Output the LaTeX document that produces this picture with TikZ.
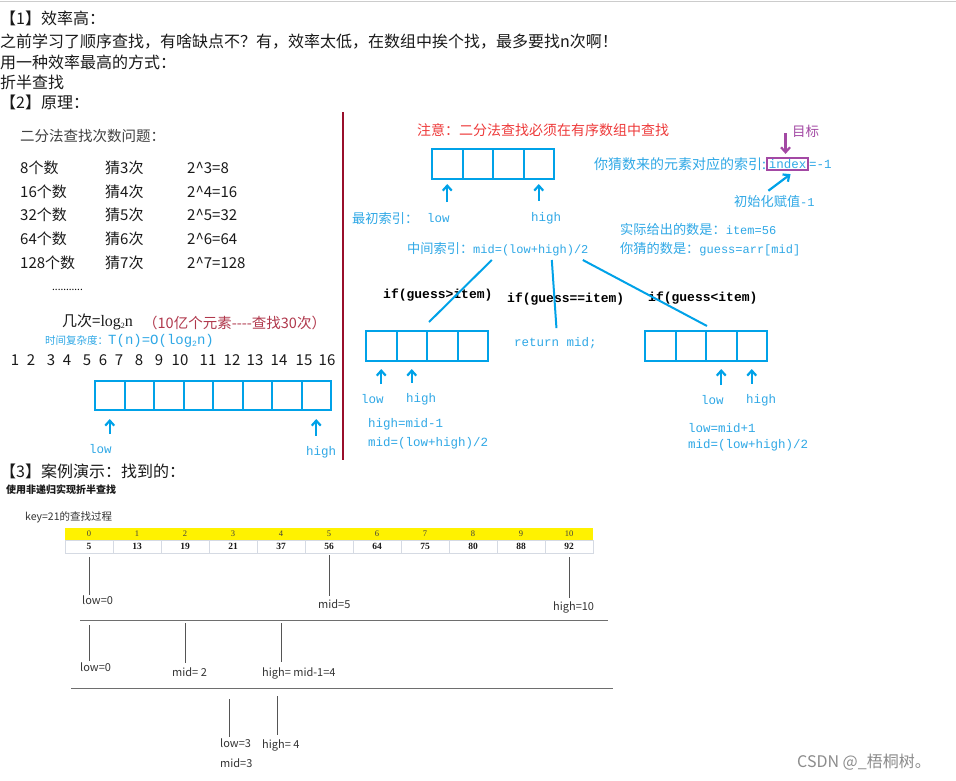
\documentclass[tikz,border=0pt]{standalone}
\usepackage{fontspec}
\setmainfont{Noto Sans CJK SC}
\newfontfamily\codefont{Liberation Mono}
\newfontfamily\numfont{Liberation Serif}
\usetikzlibrary{arrows.meta,calc,positioning}
\definecolor{paintblue}{HTML}{00A2E8}
\definecolor{codeblue}{HTML}{2FA8E6}
\definecolor{notered}{HTML}{EE3B3B}
\definecolor{paintpurple}{HTML}{A349A4}
\definecolor{rulered}{HTML}{990F2B}
\definecolor{maroon}{HTML}{B0384C}
\definecolor{ink}{HTML}{1A1A1A}
\definecolor{pinline}{HTML}{555555}
\definecolor{cellline}{HTML}{D5DAE3}
\newcommand{\subtwo}{\raisebox{-1.5pt}{\fontsize{8}{8}\selectfont 2}}
\newcommand{\code}[1]{{\codefont\fontsize{12}{14}\selectfont #1}}

\begin{document}
\begin{tikzpicture}[
  x=1pt,y=-1pt,
  txt/.style={anchor=west,inner sep=0pt,text=ink,font=\fontsize{16}{18}\selectfont},
  rowtxt/.style={anchor=west,inner sep=0pt,text=ink,font=\fontsize{15}{17}\selectfont},
  num/.style={inner sep=0pt,text=ink,font=\fontsize{15}{17}\selectfont},
  blue/.style={anchor=west,inner sep=0pt,text=codeblue,font=\fontsize{13.2}{15}\selectfont},
  bluecode/.style={blue,font=\codefont\fontsize{12.5}{14}\selectfont},
  cond/.style={anchor=west,inner sep=0pt,text=black,font=\codefont\bfseries\fontsize{13}{15}\selectfont},
  blkcell/.style={draw=paintblue,line width=2pt,minimum width=#1,minimum height=30pt,inner sep=0pt},
  uparrow/.style={-{Straight Barb[length=5pt,width=9pt]},draw=paintblue,line width=2.2pt},
  parrow/.style={uparrow,draw=paintpurple},
  branch/.style={draw=paintblue,line width=2pt},
  idxcell/.style={fill=yellow,minimum width=48pt,minimum height=12pt,inner sep=0pt,
    font=\numfont\fontsize{8.5}{9}\selectfont,text=black!75},
  valcell/.style={draw=cellline,minimum width=48pt,minimum height=13pt,inner sep=0pt,
    font=\numfont\bfseries\fontsize{9.5}{10}\selectfont,text=ink},
  glab/.style={anchor=west,inner sep=0pt,text=black!80,font=\fontsize{11}{12}\selectfont},
  pin/.style={draw=pinline,line width=.8pt},
  sep/.style={draw=pinline!85,line width=.9pt}
]
\useasboundingbox[fill=white] (0,0) rectangle (956,780);
\draw[black!20,line width=.6pt] (0,1.5) -- (956,1.5);

% section 1 and 2 headings
\node[txt] (h1) at (0,18) {【1】效率高：};
\node[txt] (p1) at (0,42) {之前学习了顺序查找，有啥缺点不？有，效率太低，在数组中挨个找，最多要找n次啊！};
\node[txt] (p2) at (0,62) {用一种效率最高的方式：};
\node[txt] (p3) at (0,82) {折半查找};
\node[txt] (h2) at (0,102) {【2】原理：};

\draw[rulered,line width=2pt] (343,112) -- (343,460);

% left panel
\node[anchor=west,inner sep=0pt,text=black!75,font=\fontsize{14.5}{16}\selectfont] (qtitle) at (20,136) {二分法查找次数问题：};
\foreach \rowN/\rowK/\rowP/\rowY in {8/3/8/168,16/4/16/192,32/5/32/215,64/6/64/239,128/7/128/263}{
  \node[rowtxt] (cnt\rowK) at (20,\rowY) {\rowN 个数};
  \node[rowtxt] (gs\rowK) at (105,\rowY) {猜\rowK 次};
  \node[rowtxt] (pw\rowK) at (187,\rowY) {2\textasciicircum\rowK=\rowP};
}
\node[anchor=west,inner sep=0pt,font=\fontsize{10}{10}\selectfont] (dots) at (52,290) {...........};
\node[rowtxt] (logn) at (62,322) {几次={\numfont\fontsize{16}{17}\selectfont log\subtwo n}};
\node[anchor=west,inner sep=0pt,text=maroon,font=\fontsize{14.5}{16}\selectfont] (billion) at (143,323) {（10亿个元素-{}-{}-{}-查找30次）};
\node[blue,font=\fontsize{10.5}{14}\selectfont] (tn) at (45,341) {时间复杂度：{\codefont\fontsize{14}{15}\selectfont T(n)=O(log\subtwo n)}};
\foreach \v/\x in {1/15,2/31,3/51,4/67,5/87,6/103,7/119,8/139,9/159,10/180,11/208,12/232,13/255,14/279,15/304,16/327}
  \node[num] (n\v) at (\x,360) {\v};
\foreach \i in {1,...,8}
  \node[blkcell=29.5pt,minimum height=29pt] (a\i) at ({95+29.5*\i-14.75},395.5) {};
\node[bluecode] (lowA) at (89,449) {low};
\node[bluecode] (highA) at (306,452) {high};
\draw[uparrow] ($(a1.south |- lowA.north)+(0,-10)$) -- ($(a1.south)+(0,8)$);
\draw[uparrow] ($(a8.south |- highA.north)+(0,-10)$) -- ($(a8.south)+(0,8)$);

% right panel
\node[anchor=west,inner sep=0pt,text=notered,font=\fontsize{14}{16}\selectfont] (note) at (417,130) {注意：二分法查找必须在有序数组中查找};
\foreach \i in {1,...,4}
  \node[blkcell=30.5pt] (m\i) at ({432+30.5*\i-15.25},164) {};
\node[blue] (first) at (352,218) {最初索引：};
\node[bluecode] (lowB) at (427,218) {low};
\node[bluecode] (highB) at (531,218) {high};
\draw[uparrow] ($(m1.south |- lowB.north)+(0,-11)$) -- ($(m1.south)+(0,4)$);
\draw[uparrow] ($(m4.south |- highB.north)+(0,-11)$) -- ($(m4.south)+(0,4)$);
\node[blue] (midf) at (407,249) {中间索引：\code{mid=(low+high)/2}};

\node[blue,font=\fontsize{14}{15}\selectfont] (gtxt) at (594,164) {你猜数来的元素对应的索引:};
\node[draw=paintpurple,line width=2pt,inner sep=1.5pt,text=codeblue,
  font=\codefont\fontsize{12.5}{14}\selectfont,right=0pt of gtxt] (idx) {index};
\node[bluecode,right=0pt of idx] (minus) {=-1};
\node[anchor=west,inner sep=0pt,text=paintpurple,font=\fontsize{13.5}{15}\selectfont] (tgt) at (792,131) {目标};
\node[blue] (init) at (734,201) {初始化赋值\code{-1}};
\draw[parrow] ($(idx.north |- tgt.west)+(-2,2)$) -- ($(idx.north)+(-2,-3)$);
\draw[uparrow] ($(init.north)+(-6,-4)$) -- ($(idx.south)+(3,3)$);
\node[blue] (item) at (620,229) {实际给出的数是：\code{item=56}};
\node[blue] (guess) at (620,249) {你猜的数是：\code{guess=arr[mid]}};

\node[cond] (ifgt) at (383,295) {if(guess>item)};
\node[cond] (ifeq) at (507,299) {if(guess==item)};
\node[cond] (iflt) at (648,298) {if(guess<item)};
\foreach \i in {1,...,4}{
  \node[blkcell=30.5pt] (l\i) at ({366+30.5*\i-15.25},346) {};
  \node[blkcell=30.5pt] (r\i) at ({645+30.5*\i-15.25},346) {};
}
\node[bluecode] (ret) at (514,343) {return mid;};
\draw[branch] ($(midf.south)+(-6,4)$) -- ($(l2.north east)+(1,-8)$);
\draw[branch] ($(midf.south)+(54,4)$) -- ($(ret.north)+(1,-9)$);
\draw[branch] ($(midf.south)+(85,4)$) -- ($(r3.north west)+(2,-4)$);

\node[bluecode] (lowC) at (361,399) {low};
\node[bluecode] (highC) at (406,399) {high};
\draw[uparrow] ($(l1.south |- lowC.north)+(0,-10)$) -- ($(l1.south)+(0,7)$);
\draw[uparrow] ($(l2.south |- highC.north)+(0,-10)$) -- ($(l2.south)+(0,7)$);
\node[bluecode] (hset) at (368,424) {high=mid-1};
\node[bluecode] (mset) at (368,443) {mid=(low+high)/2};

\node[bluecode] (lowD) at (701,400) {low};
\node[bluecode] (highD) at (746,400) {high};
\draw[uparrow] ($(r3.south |- lowD.north)+(0,-10)$) -- ($(r3.south)+(0,7)$);
\draw[uparrow] ($(r4.south |- highD.north)+(0,-10)$) -- ($(r4.south)+(0,7)$);
\node[bluecode] (lset) at (688,428) {low=mid+1};
\node[bluecode] (mset2) at (688,445) {mid=(low+high)/2};

% section 3: worked example
\node[txt] (h3) at (0,471) {【3】案例演示：找到的：};
\node[anchor=west,inner sep=0pt,text=ink,font=\bfseries\fontsize{10}{12}\selectfont] (sub) at (6,490) {使用非递归实现折半查找};
\node[glab,font=\fontsize{10.5}{12}\selectfont] (key) at (25,517) {key=21的查找过程};
\foreach \v [count=\i from 0] in {5,13,19,21,37,56,64,75,80,88,92}{
  \node[idxcell] (i\i) at ({89+48*\i},534) {\i};
  \node[valcell] (v\i) at ({89+48*\i},546.5) {\v};
}
\node[glab] (low1) at (82,600) {low=0};
\node[glab] (mid1) at (318,604) {mid=5};
\node[glab] (high1) at (553,607) {high=10};
\draw[pin] ($(v0.south)+(0,4)$) -- (v0.south |- low1.north);
\draw[pin] ($(v5.south)+(0,2)$) -- ($(v5.south |- mid1.north)+(0,-3)$);
\draw[pin] ($(v10.south)+(0,4)$) -- ($(v10.south |- high1.north)+(0,-3)$);
\coordinate (sepA) at (80,620);
\coordinate (sepAend) at (608,620);
\draw[sep] (sepA) -- (sepAend);

\node[glab] (low2) at (80,667) {low=0};
\node[glab] (mid2) at (172,672) {mid= 2};
\node[glab] (high2) at (262,673) {high= mid-1=4};
\draw[pin] ($(v0.south |- sepA)+(0,5)$) -- ($(v0.south |- low2.north)+(0,-1)$);
\draw[pin] ($(v2.south |- sepA)+(0,3)$) -- ($(v2.south |- mid2.north)+(0,-4)$);
\draw[pin] ($(v4.south |- sepA)+(0,3)$) -- ($(v4.south |- high2.north)+(0,-5)$);
\coordinate (sepB) at (71,688);
\coordinate (sepBend) at (613,688);
\draw[sep] (sepB) -- (sepBend);

\node[glab] (low3) at (220,743) {low=3};
\node[glab] (mid3) at (220,763) {mid=3};
\node[glab] (high3) at (262,745) {high= 4};
\draw[pin] ($(v3.south |- sepB)+(-4,11)$) -- ($(v3.south |- low3.north)+(-4,-1)$);
\draw[pin] ($(v4.south |- sepB)+(-4,8)$) -- ($(v4.south |- high3.north)+(-4,-4)$);

\node[anchor=west,inner sep=0pt,text=black!45,font=\fontsize{16}{18}\selectfont] (mark) at (797,762) {CSDN @\_梧桐树。};
\end{tikzpicture}
\end{document}
